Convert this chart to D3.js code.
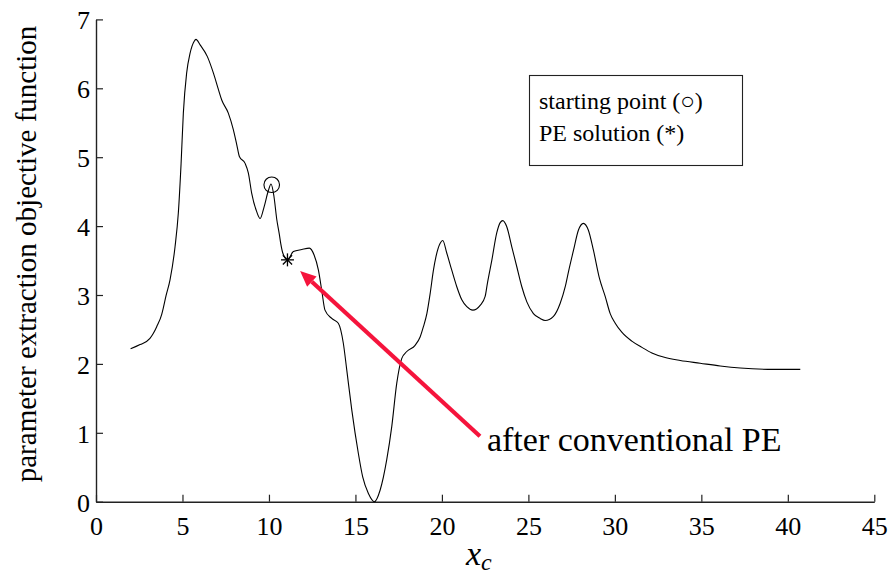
<!DOCTYPE html>
<html>
<head>
<meta charset="utf-8">
<script src="https://cdn.jsdelivr.net/npm/d3@7"></script>
<style>
  html, body { margin: 0; padding: 0; background: #fff; }
  svg { display: block; }
</style>
</head>
<body>
<svg id="chart" width="893" height="579"></svg>
<script>
// Objective function sampled along x_c
const xc = [2.0, 2.55, 3.12, 3.31, 3.51, 3.80, 3.89, 4.05, 4.28, 4.57, 4.76, 4.92, 5.05, 5.24, 5.44, 5.67, 5.78, 6.02, 6.44, 6.79, 7.08, 7.27, 7.65, 7.94, 8.14, 8.29, 8.62, 8.81, 9.0, 9.29, 9.49, 9.72, 9.97, 10.12, 10.29, 10.45, 10.60, 10.68, 10.80, 11.07, 11.41, 11.90, 12.34, 12.61, 12.86, 13.05, 13.24, 13.63, 14.01, 14.30, 14.50, 14.79, 15.17, 15.42, 15.75, 16.10, 16.43, 16.81, 17.10, 17.39, 17.68, 17.97, 18.45, 18.74, 18.93, 19.13, 19.32, 19.51, 19.66, 19.90, 20.05, 20.28, 20.57, 20.86, 21.15, 21.44, 21.79, 22.21, 22.50, 22.63, 22.89, 23.17, 23.37, 23.52, 23.75, 24.04, 24.33, 24.62, 24.91, 25.29, 25.68, 25.97, 26.45, 26.84, 27.13, 27.32, 27.61, 27.89, 28.18, 28.47, 28.76, 29.11, 29.44, 29.73, 30.02, 30.40, 30.98, 31.56, 32.14, 32.81, 33.78, 34.93, 36.09, 37.25, 39.17, 40.72];
const objective = [2.22, 2.28, 2.37, 2.44, 2.54, 2.72, 2.81, 2.99, 3.22, 3.70, 4.19, 4.91, 5.64, 6.22, 6.51, 6.68, 6.71, 6.63, 6.46, 6.22, 5.98, 5.83, 5.64, 5.40, 5.18, 5.01, 4.91, 4.77, 4.48, 4.21, 4.11, 4.28, 4.52, 4.61, 4.43, 4.10, 3.88, 3.75, 3.61, 3.51, 3.63, 3.66, 3.68, 3.58, 3.36, 3.07, 2.78, 2.66, 2.59, 2.30, 1.91, 1.33, 0.70, 0.36, 0.12, 0.0, 0.17, 0.61, 1.09, 1.72, 2.08, 2.18, 2.27, 2.39, 2.54, 2.73, 3.02, 3.36, 3.56, 3.75, 3.79, 3.61, 3.36, 3.12, 2.93, 2.83, 2.78, 2.85, 2.98, 3.17, 3.51, 3.90, 4.05, 4.08, 3.99, 3.70, 3.41, 3.12, 2.90, 2.73, 2.66, 2.63, 2.69, 2.88, 3.12, 3.34, 3.65, 3.94, 4.04, 3.94, 3.65, 3.24, 2.98, 2.73, 2.59, 2.46, 2.33, 2.24, 2.16, 2.10, 2.05, 2.01, 1.97, 1.94, 1.92, 1.92];

// Marked points
const startPoint = [10.16, 4.60];
const peSolution = [11.07, 3.51];

// Axis ticks
const xTicks = [0, 5, 10, 15, 20, 25, 30, 35, 40, 45];
const yTicks = [0, 1, 2, 3, 4, 5, 6, 7];

// Annotation arrow (tail, head) and its label
const arrowTail = [22.2, 0.95];
const arrowHead = [11.8, 3.35];
const annotationText = "after conventional PE";
const legendLines = ["starting point (\u25CB)", "PE solution (*)"];

const serif = '"Liberation Serif"';
const svg = d3.select("#chart");
const plotLeft = 96, plotRight = 874.3, plotTop = 19.4, plotBottom = 501.7;

const x = d3.scaleLinear().domain([0, 45]).range([plotLeft, plotRight]);
const y = d3.scaleLinear().domain([0, 7]).range([plotBottom, plotTop]);

// Axes with inward ticks
const xAxis = d3.axisBottom(x).tickValues(xTicks).tickFormat(d3.format("d"))
  .tickSize(-7).tickSizeOuter(0);
const yAxis = d3.axisLeft(y).tickValues(yTicks).tickFormat(d3.format("d"))
  .tickSize(-7).tickSizeOuter(0);

const gx = svg.append("g").attr("transform", `translate(0,${plotBottom})`).call(xAxis);
const gy = svg.append("g").attr("transform", `translate(${plotLeft},0)`).call(yAxis);
[gx, gy].forEach(g => {
  g.select(".domain").attr("stroke", "#222").attr("stroke-width", 1.4);
  g.selectAll(".tick line").attr("stroke", "#222").attr("stroke-width", 1.2);
  g.selectAll(".tick text")
    .attr("fill", "#000")
    .style("font-family", serif)
    .style("font-size", "26px");
});
gx.selectAll(".tick text").attr("y", 33).attr("dy", 0);
gy.selectAll(".tick text").attr("x", -6).attr("dy", "0.36em");

// Curve
const line = d3.line().x((d, i) => x(xc[i])).y(d => y(d)).curve(d3.curveMonotoneX);
svg.append("path")
  .attr("d", line(objective))
  .attr("fill", "none")
  .attr("stroke", "#000")
  .attr("stroke-width", 1.1);

// Starting point marker
svg.append("circle")
  .attr("cx", x(startPoint[0])).attr("cy", y(startPoint[1]))
  .attr("r", 7.8)
  .attr("fill", "none").attr("stroke", "#000").attr("stroke-width", 1.1);

// PE solution marker (asterisk)
const sx = x(peSolution[0]), sy = y(peSolution[1]);
const star = svg.append("g").attr("transform", `translate(${sx},${sy})`);
[0, 45, 90, 135].forEach(a => {
  const r = 6.5, rad = a * Math.PI / 180;
  star.append("line")
    .attr("x1", -r * Math.cos(rad)).attr("y1", -r * Math.sin(rad))
    .attr("x2", r * Math.cos(rad)).attr("y2", r * Math.sin(rad))
    .attr("stroke", "#000").attr("stroke-width", 1.3);
});

// Red arrow
const red = "#f5143c";
const hx = x(arrowHead[0]), hy = y(arrowHead[1]);
const tx = x(arrowTail[0]), ty = y(arrowTail[1]);
const ang = Math.atan2(hy - ty, hx - tx);
const headLen = 16, headW = 7;
const bx = hx - headLen * Math.cos(ang), by = hy - headLen * Math.sin(ang);
svg.append("line")
  .attr("x1", tx).attr("y1", ty).attr("x2", bx).attr("y2", by)
  .attr("stroke", red).attr("stroke-width", 4.2);
svg.append("path")
  .attr("d", `M${hx},${hy} L${bx + headW * Math.sin(ang)},${by - headW * Math.cos(ang)} L${bx - headW * Math.sin(ang)},${by + headW * Math.cos(ang)} Z`)
  .attr("fill", red);

svg.append("text")
  .attr("x", x(arrowTail[0]) + 7).attr("y", 451)
  .style("font-family", serif).style("font-size", "34px")
  .text(annotationText);

// Legend box
svg.append("rect")
  .attr("x", 529.5).attr("y", 75.5).attr("width", 213).attr("height", 90)
  .attr("fill", "#fff").attr("stroke", "#222").attr("stroke-width", 1.1);
legendLines.forEach((t, i) => {
  svg.append("text")
    .attr("x", 539).attr("y", 109 + i * 32)
    .style("font-family", serif).style("font-size", "24px")
    .text(t);
});

// Axis titles
svg.append("text")
  .attr("transform", `translate(36,254) rotate(-90)`)
  .attr("text-anchor", "middle")
  .style("font-family", serif).style("font-size", "29px")
  .text("parameter extraction objective function");

const xl = svg.append("text")
  .attr("x", 466).attr("y", 565)
  .style("font-family", serif).style("font-size", "34px")
  .style("font-style", "italic");
xl.append("tspan").text("x");
xl.append("tspan").attr("dy", 5).style("font-size", "24px").text("c");
</script>
</body>
</html>
